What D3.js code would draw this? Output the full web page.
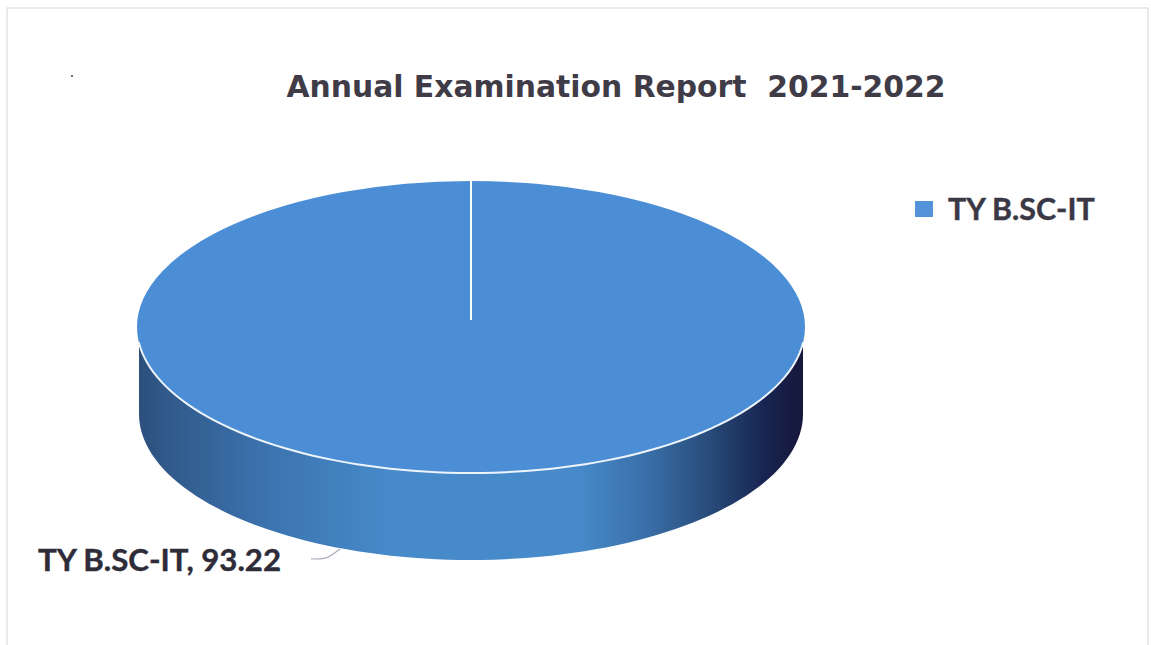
<!DOCTYPE html>
<html>
<head>
<meta charset="utf-8">
<script src="https://cdnjs.cloudflare.com/ajax/libs/d3/7.8.5/d3.min.js"></script>
<style>
html,body{margin:0;padding:0;background:#fff;overflow:hidden}
svg{display:block}
</style>
</head>
<body>
<svg id="chart" width="1151" height="645"></svg>
<script>
const chartTitle = "Annual Examination Report  2021-2022";
const categories = ["TY B.SC-IT"];
const values = [93.22];

const svg = d3.select("#chart");
const cx = 471, cy = 327, rx = 334, ry = 146, depth = 87, sideRx = 332;

svg.append("rect").attr("x",7).attr("y",8).attr("width",1141).attr("height",660)
  .attr("fill","#fff").attr("stroke","#dcdce0").attr("stroke-width",1.2);

svg.append("circle").attr("cx",72).attr("cy",76).attr("r",1.1).attr("fill","#555");

const stops = [[0,"#2c4f7c"],[0.05,"#315a8b"],[0.2,"#3c74b0"],[0.38,"#478aca"],[0.66,"#478aca"],[0.76,"#3a70aa"],[0.86,"#274a78"],[0.94,"#182450"],[1,"#16163a"]];
const grad = svg.append("defs").append("linearGradient").attr("id","side")
  .attr("gradientUnits","userSpaceOnUse")
  .attr("x1",cx-rx).attr("x2",cx+rx).attr("y1",0).attr("y2",0);
grad.selectAll("stop").data(stops).join("stop")
  .attr("offset",d=>d[0]).attr("stop-color",d=>d[1]);

const rimAngles = d3.range(0,181,2).map(a=>a*Math.PI/180);
const rimX = t=>cx+rx*Math.cos(t), rimY = t=>cy+ry*Math.sin(t);
const side = d3.area().x(t=>cx+sideRx*Math.cos(t)).y0(rimY).y1(t=>rimY(t)+depth);
svg.append("path").datum(rimAngles).attr("d",side).attr("fill","url(#side)");

// top face from a pie layout
const pieData = d3.pie().sort(null)(values);
const arc = d3.arc().innerRadius(0).outerRadius(rx);
const face = svg.append("g").attr("transform",`translate(${cx},${cy}) scale(1,${ry/rx})`);
face.selectAll("path").data(pieData).join("path").attr("d",arc).attr("fill","#4b8ed5");

// slice seam at the pie's start angle
const seamOuter = d3.pointRadial(pieData[0].startAngle, rx);
const seamInner = d3.pointRadial(pieData[0].startAngle, 16);
face.append("line")
  .attr("x1",seamOuter[0]).attr("y1",seamOuter[1])
  .attr("x2",seamInner[0]).attr("y2",seamInner[1])
  .attr("stroke","#fff").attr("stroke-width",2).attr("vector-effect","non-scaling-stroke");

// white highlight on the front rim
const rimLine = d3.line().x(rimX).y(rimY);
svg.append("path").datum(d3.range(6,175,2).map(a=>a*Math.PI/180))
  .attr("d",rimLine).attr("fill","none").attr("stroke","#eef4fb").attr("stroke-width",2);

// title
svg.append("text").attr("x",616).attr("y",97).attr("text-anchor","middle")
  .attr("font-family","'DejaVu Sans'").attr("font-weight",700).attr("font-size",29.8)
  .attr("fill","#3f3c48").style("white-space","pre")
  .text(chartTitle);

// legend
const legend = svg.append("g").selectAll("g").data(categories).join("g");
legend.append("rect").attr("x",915).attr("y",201).attr("width",18).attr("height",16).attr("fill","#5493da");
legend.append("text").attr("x",948).attr("y",220)
  .attr("font-family","Lato").attr("font-weight",700).attr("font-size",30.4)
  .attr("fill","#3a3844").attr("stroke","#3a3844").attr("stroke-width",0.4).text(d=>d);

// data label and leader
svg.append("path")
  .datum([[311,559],[325,559],[332,555],[340,549]])
  .attr("d",d3.line().curve(d3.curveBasis))
  .attr("fill","none").attr("stroke","#a9adb8").attr("stroke-width",1.2);
svg.append("text").attr("x",38).attr("y",571)
  .attr("font-family","Lato").attr("font-weight",700).attr("font-size",31.2)
  .attr("fill","#2e2c38").attr("stroke","#2e2c38").attr("stroke-width",0.4).text(`${categories[0]}, ${values[0]}`);
</script>
</body>
</html>
